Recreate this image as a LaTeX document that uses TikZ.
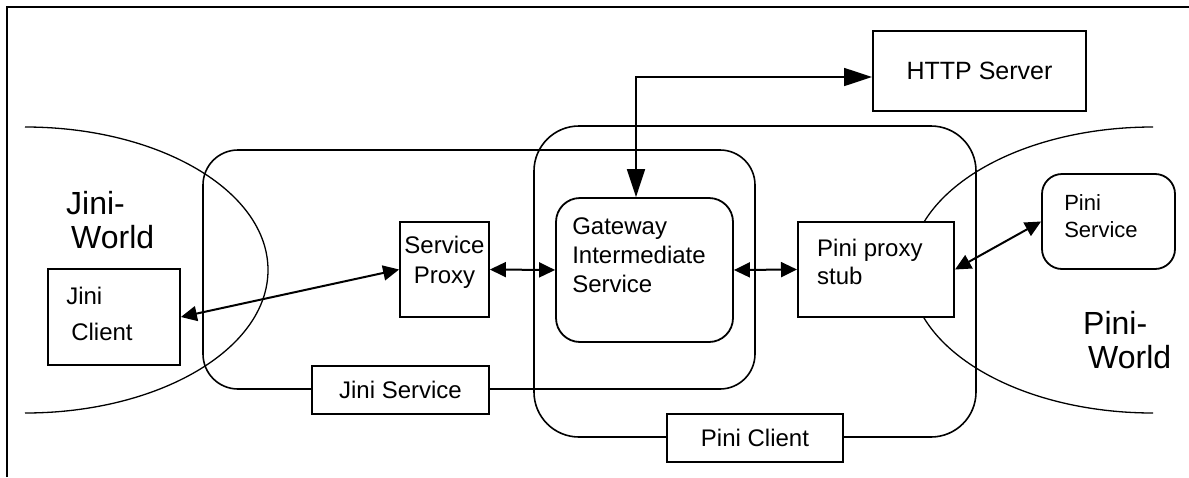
\documentclass[tikz,border=0pt]{standalone}
\usepackage{fontspec}
\setmainfont{Liberation Sans}
\usetikzlibrary{arrows.meta}
\tikzset{
	box/.style={draw, rectangle, line width=1.8pt, fill=white, inner sep=0pt},
	rbox/.style={box, rounded corners=24pt},
	region/.style={draw, rectangle, line width=1.6pt, inner sep=0pt},
	txt/.style={inner sep=0pt, align=left, font=\fontsize{24}{29}\selectfont},
	world/.style={inner sep=0pt, align=left, font=\fontsize{32}{34}\selectfont},
	link/.style={line width=2pt, {Triangle[length=16pt,width=15pt]}-{Triangle[length=16pt,width=15pt]}},
	% longer heads for the HTTP connection
	bighead/.style={line width=1.7pt, {Triangle[length=28pt,width=18pt]}-{Triangle[length=28pt,width=18pt]}},
}

\begin{document}
\begin{tikzpicture}[x=1pt, y=-1pt]
	\useasboundingbox (0,0) rectangle (1189,477);
	
	\draw [line width=2.5pt] (7,477) -- (7,7) -- (1189,7);
	
	% the two worlds
	\draw [line width=1.3pt] (25,127) arc [start angle=-90, end angle=90, x radius=243, y radius=143];
	\draw [line width=1.3pt] (1153,127) arc [start angle=270, end angle=90, x radius=243, y radius=143];
	
	\node (jinisvc) [region, rounded corners=35pt, minimum width=552pt, minimum height=239pt] at (479,269.5) {};
	\node (piniclt) [region, rounded corners=45pt, minimum width=442pt, minimum height=311pt] at (755,281.5) {};
	
	\node (jinisvclbl) [box, txt, minimum width=177pt, minimum height=48pt] at ([xshift=-78.5pt]jinisvc.south) {Jini Service};
	\node (piniclbl) [box, txt, minimum width=176pt, minimum height=48pt] at (piniclt.south) {Pini Client};
	
	\node (jc) [box, minimum width=132pt, minimum height=96pt] at (114,317) {};
	\node (sp) [box, minimum width=89pt, minimum height=95pt] at (444.5,269.5) {};
	\node (gw) [rbox, minimum width=177pt, minimum height=144pt] at (644.5,270) {};
	\node (pps) [box, line width=2pt, minimum width=156pt, minimum height=95pt] at (876,269.5) {};
	\node (ps) [rbox, rounded corners=20pt, minimum width=133pt, minimum height=95pt] at (1108.5,221.5) {};
	\node (http) [box, line width=2pt, txt, font=\fontsize{25}{30}\selectfont, minimum width=213pt, minimum height=80pt] at (979.5,71) {HTTP Server};
	
	\node (jctext) [txt, anchor=north west, font=\fontsize{24}{36}\selectfont] at ([shift={(19,19)}]jc.north west) {Jini\\\hspace{5pt}Client};
	\node (sptext) [txt, align=center, font=\fontsize{24}{30}\selectfont] at ([yshift=7pt]sp.center) {Service\\Proxy};
	\node (gwtext) [txt, anchor=north west] at ([shift={(17,20)}]gw.north west) {Gateway\\Intermediate\\Service};
	\node (ppstext) [txt, anchor=north west, font=\fontsize{24}{28}\selectfont] at ([shift={(20,18)}]pps.north west) {Pini proxy\\stub};
	\node (pstext) [txt, anchor=north west, font=\fontsize{22}{27}\selectfont] at ([shift={(23,21)}]ps.north west) {Pini\\Service};
	
	\node (jiniworld) [world, anchor=north west] at (66,191) {Jini-\\\hspace{5pt}World};
	\node (piniworld) [world, anchor=north west] at (1083,311) {Pini-\\\hspace{5pt}World};
	
	\draw [link] (jc.east) -- (sp.west);
	\draw [link] (sp.east) -- (gw.west);
	\draw [link] (gw.east) -- (pps.west);
	\draw [link] (pps.east) -- (ps.west);
	\draw [bighead] ([xshift=-8.5pt]gw.north) |- ([yshift=-6pt]http.west);
\end{tikzpicture}
\end{document}
